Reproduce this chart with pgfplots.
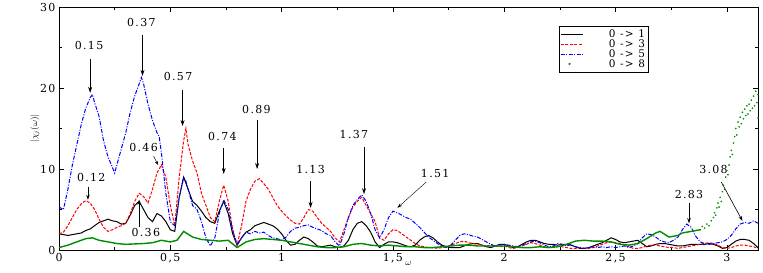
\documentclass[border=0pt]{standalone}
\usepackage{fontspec}
\setmainfont{DejaVu Serif}[LetterSpace=12]
\usepackage{pgfplots}
\pgfplotsset{compat=1.18}
\usetikzlibrary{arrows.meta}
\definecolor{xgreen}{RGB}{0,140,0}

\pgfplotstableread{
x y
0.00 2.0
0.02 1.9
0.04 1.8
0.06 1.9
0.08 2.0
0.10 2.1
0.12 2.4
0.14 2.6
0.16 3.0
0.18 3.4
0.20 3.6
0.22 3.8
0.24 3.6
0.26 3.5
0.28 3.2
0.30 3.3
0.32 4.3
0.34 5.5
0.36 6.0
0.38 5.0
0.40 4.0
0.42 3.5
0.44 4.5
0.46 4.2
0.48 3.5
0.50 2.5
0.52 2.3
0.54 6.5
0.56 9.0
0.58 7.5
0.60 6.0
0.62 5.5
0.64 4.8
0.66 4.0
0.68 3.5
0.70 3.3
0.72 4.8
0.74 6.0
0.76 4.5
0.78 2.0
0.80 0.6
0.82 1.5
0.84 2.2
0.86 2.5
0.88 3.0
0.90 3.2
0.92 3.4
0.94 3.2
0.96 3.0
0.98 2.6
1.00 2.0
1.02 1.2
1.04 0.6
1.06 0.7
1.08 1.2
1.10 1.6
1.12 1.4
1.14 1.0
1.16 0.5
1.18 0.4
1.20 0.5
1.22 0.6
1.24 0.4
1.26 0.3
1.28 0.5
1.30 1.2
1.32 2.5
1.34 3.3
1.36 3.5
1.38 3.0
1.40 2.2
1.42 1.0
1.44 0.3
1.46 0.7
1.48 1.0
1.50 1.0
1.52 0.9
1.54 0.7
1.56 0.5
1.58 0.4
1.60 0.6
1.62 1.2
1.64 1.6
1.66 1.8
1.68 1.5
1.70 1.0
1.72 0.6
1.74 0.4
1.76 0.3
1.78 0.3
1.80 0.3
1.82 0.5
1.84 0.7
1.86 0.8
1.88 0.8
1.90 0.6
1.92 0.4
1.94 0.3
1.96 0.5
1.98 0.7
2.00 0.7
2.02 0.5
2.04 0.3
2.06 0.4
2.08 0.7
2.10 1.0
2.12 1.2
2.14 1.2
2.16 1.0
2.18 0.8
2.20 0.7
2.22 0.7
2.24 0.6
2.26 0.7
2.28 0.7
2.30 0.6
2.32 0.4
2.34 0.2
2.36 0.2
2.38 0.3
2.40 0.5
2.42 0.7
2.44 0.9
2.46 1.2
2.48 1.5
2.50 1.3
2.52 1.0
2.54 0.9
2.56 1.0
2.58 1.1
2.60 1.2
2.62 0.8
2.64 0.4
2.66 0.5
2.68 0.7
2.70 0.8
2.72 0.8
2.74 0.7
2.76 0.6
2.78 0.5
2.80 0.5
2.82 0.6
2.84 0.7
2.86 0.7
2.88 0.7
2.90 0.7
2.92 0.8
2.94 0.7
2.96 0.5
2.98 0.2
3.00 0.3
3.02 0.7
3.04 1.1
3.06 1.3
3.08 1.3
3.10 1.2
3.12 0.8
3.14 0.3
}\blackdata

\pgfplotstableread{
x y
0.00 2.0
0.02 2.2
0.04 3.0
0.06 4.0
0.08 5.0
0.10 5.7
0.12 6.1
0.14 5.8
0.16 5.0
0.18 3.8
0.20 2.8
0.22 2.3
0.24 2.5
0.26 2.8
0.28 3.0
0.30 3.3
0.32 4.5
0.34 6.0
0.36 7.0
0.38 6.6
0.40 5.8
0.42 7.5
0.44 9.5
0.46 10.5
0.48 9.0
0.50 5.5
0.52 3.0
0.54 9.0
0.56 13.5
0.57 15.0
0.58 13.0
0.60 11.0
0.62 9.5
0.64 7.0
0.66 5.5
0.68 4.0
0.70 3.5
0.72 6.0
0.74 8.0
0.76 6.0
0.78 2.5
0.80 0.6
0.82 3.0
0.84 6.0
0.86 7.5
0.88 8.5
0.90 8.8
0.92 8.2
0.94 7.5
0.96 6.5
0.98 5.5
1.00 4.8
1.02 4.2
1.04 3.7
1.06 3.3
1.08 3.2
1.10 4.0
1.12 5.0
1.14 4.8
1.16 4.0
1.18 3.3
1.20 2.8
1.22 2.3
1.24 1.5
1.26 1.0
1.28 2.5
1.30 4.0
1.32 5.3
1.34 6.0
1.36 6.5
1.38 5.5
1.40 4.5
1.42 3.5
1.44 1.5
1.46 1.2
1.48 2.0
1.50 2.5
1.52 2.4
1.54 2.0
1.56 1.6
1.58 1.2
1.60 0.8
1.62 0.5
1.64 0.4
1.66 0.3
1.68 0.3
1.70 0.2
1.72 0.3
1.74 0.4
1.76 0.6
1.78 0.8
1.80 1.0
1.82 1.1
1.84 0.9
1.86 0.8
1.88 0.7
1.90 0.6
1.92 0.5
1.94 0.6
1.96 0.5
1.98 0.4
2.00 0.5
2.02 0.3
2.04 0.2
2.06 0.3
2.08 0.5
2.10 0.7
2.12 0.9
2.14 0.8
2.16 0.6
2.18 0.4
2.20 0.3
2.22 0.4
2.24 0.5
2.26 0.4
2.28 0.3
2.30 0.2
2.32 0.2
2.34 0.3
2.36 0.2
2.38 0.2
2.40 0.3
2.42 0.5
2.44 0.7
2.46 0.9
2.48 1.0
2.50 0.9
2.52 0.8
2.54 0.6
2.56 0.4
2.58 0.2
2.60 0.2
2.62 0.3
2.64 0.5
2.66 0.6
2.68 0.6
2.70 0.5
2.72 0.4
2.74 0.3
2.76 0.3
2.78 0.2
2.80 0.3
2.82 0.4
2.84 0.5
2.86 0.6
2.88 0.7
2.90 0.8
2.92 0.9
2.94 0.8
2.96 0.6
2.98 0.3
3.00 0.2
3.02 0.3
3.04 0.5
3.06 0.6
3.08 0.6
3.10 0.5
3.12 0.4
3.14 0.2
}\reddata

\pgfplotstableread{
x y
0.00 5.3
0.02 5.0
0.04 7.5
0.06 10.5
0.08 13.0
0.10 15.5
0.12 17.5
0.14 18.8
0.15 19.2
0.16 18.2
0.18 16.5
0.20 13.5
0.22 11.5
0.24 10.2
0.25 9.5
0.26 10.5
0.28 12.5
0.30 14.5
0.32 17.0
0.34 19.0
0.36 20.5
0.37 21.3
0.38 20.5
0.40 18.0
0.42 16.0
0.44 14.5
0.45 14.0
0.46 12.0
0.48 7.0
0.50 3.5
0.52 3.0
0.54 6.5
0.56 9.0
0.57 8.5
0.58 7.5
0.60 5.5
0.62 5.0
0.64 3.5
0.66 1.5
0.68 0.5
0.70 1.5
0.72 4.5
0.74 6.2
0.76 5.0
0.78 2.5
0.80 0.6
0.82 1.5
0.84 2.2
0.86 2.0
0.88 2.3
0.90 2.1
0.92 2.2
0.94 1.8
0.96 1.5
0.98 1.4
1.00 1.2
1.02 1.6
1.04 2.3
1.06 2.7
1.08 2.8
1.10 3.0
1.12 3.1
1.14 2.8
1.16 2.6
1.18 2.4
1.20 2.0
1.22 1.8
1.24 1.0
1.26 0.5
1.28 2.0
1.30 4.0
1.32 5.5
1.34 6.2
1.36 6.8
1.38 6.0
1.40 4.5
1.42 2.5
1.44 1.5
1.46 2.5
1.48 4.0
1.50 4.8
1.52 4.6
1.54 4.3
1.56 4.0
1.58 3.8
1.60 3.3
1.62 2.8
1.64 2.2
1.66 1.6
1.68 1.2
1.70 0.8
1.72 0.5
1.74 0.3
1.76 0.6
1.78 1.2
1.80 1.8
1.82 2.0
1.84 1.9
1.86 1.7
1.88 1.6
1.90 1.3
1.92 1.0
1.94 0.7
1.96 0.5
1.98 0.6
2.00 0.7
2.02 0.6
2.04 0.5
2.06 0.4
2.08 0.6
2.10 0.8
2.12 1.0
2.14 1.1
2.16 0.9
2.18 0.6
2.20 0.4
2.22 0.5
2.24 0.8
2.26 0.7
2.28 0.5
2.30 0.7
2.32 0.4
2.34 0.3
2.36 0.2
2.38 0.3
2.40 0.4
2.42 0.3
2.44 0.4
2.46 0.3
2.48 0.4
2.50 0.3
2.52 0.4
2.54 0.5
2.56 0.3
2.58 0.5
2.60 0.8
2.62 1.5
2.64 2.0
2.66 1.9
2.68 1.6
2.70 1.2
2.72 1.0
2.74 0.9
2.76 1.2
2.78 1.6
2.80 2.5
2.82 3.2
2.84 2.8
2.86 1.7
2.88 1.0
2.90 0.8
2.92 0.7
2.94 0.8
2.96 0.9
2.98 1.0
3.00 1.3
3.02 1.8
3.04 2.6
3.06 3.2
3.08 3.4
3.10 3.3
3.12 3.6
3.14 3.3
}\bluedata

\pgfplotstableread{
x y
0.00 0.3
0.04 0.6
0.08 1.0
0.12 1.4
0.15 1.5
0.18 1.2
0.22 1.0
0.26 0.8
0.30 0.7
0.34 0.75
0.38 0.8
0.42 0.9
0.46 1.2
0.50 1.0
0.53 1.2
0.56 2.3
0.60 1.6
0.64 1.3
0.68 1.2
0.72 1.1
0.76 1.2
0.80 0.3
0.84 1.0
0.88 1.3
0.92 1.4
0.96 1.3
1.00 1.2
1.04 1.0
1.08 0.8
1.12 0.6
1.16 0.4
1.20 0.3
1.24 0.3
1.28 0.4
1.32 0.7
1.36 0.8
1.40 0.6
1.44 0.5
1.48 0.6
1.52 0.5
1.56 0.4
1.60 0.4
1.64 0.3
1.68 0.3
1.72 0.4
1.76 0.5
1.80 0.6
1.84 0.6
1.88 0.5
1.92 0.5
1.96 0.5
2.00 0.5
2.04 0.4
2.08 0.3
2.12 0.3
2.16 0.4
2.20 0.3
2.24 0.4
2.28 0.7
2.32 1.1
2.36 1.2
2.40 1.1
2.44 1.1
2.48 1.0
2.52 0.7
2.56 0.6
2.60 0.8
2.64 1.4
2.68 2.1
2.70 2.3
2.74 1.6
2.78 1.8
2.80 2.1
2.84 2.3
2.88 2.5
}\greenline

\pgfplotstableread{
x y
2.88 2.5
2.89 2.9
2.90 2.7
2.91 3.2
2.92 3.0
2.93 3.6
2.94 4.0
2.945 4.6
2.95 4.3
2.955 5.2
2.96 5.8
2.965 5.3
2.97 6.5
2.975 6.0
2.98 7.2
2.985 8.0
2.99 7.5
2.995 9.0
3.00 9.8
3.005 9.3
3.01 10.5
3.015 11.5
3.02 12.3
3.025 11.8
3.03 13.2
3.035 14.0
3.04 15.0
3.045 14.2
3.05 15.8
3.055 15.2
3.06 16.4
3.065 15.6
3.07 17.0
3.075 16.2
3.08 17.4
3.085 16.6
3.09 17.8
3.095 16.8
3.10 18.0
3.105 17.2
3.11 18.5
3.115 17.5
3.12 19.0
3.125 17.8
3.13 19.6
3.135 18.2
3.14 19.2
3.14 16.3
}\greendots

\begin{document}
\begin{tikzpicture}
\begin{axis}[
  scale only axis,
  width=699pt, height=243pt,
  xmin=0, xmax=3.14, ymin=0, ymax=30,
  xtick={0,0.5,1,1.5,2,2.5,3},
  xticklabels={0,{0,5},1,{1,5},2,{2,5},3},
  ytick={0,10,20,30},
  minor xtick={0.25,0.75,1.25,1.75,2.25,2.75},
  minor ytick={5,15,25},
  tick align=inside,
  major tick length=5pt, minor tick length=3pt,
  tick style={black, line width=0.6pt},
  axis line style={line width=0.6pt},
  /pgf/number format/assume math mode=true,
  tick label style={font=\fontsize{11}{12}\selectfont},
  xlabel={$\omega$},
  ylabel={$|\chi_{j}(\omega)|$},
  label style={font=\fontsize{9}{10}\selectfont},
  xlabel style={yshift=8pt},
  ylabel style={yshift=-6pt},
  legend style={at={(0.715,0.92)}, anchor=north west, draw=black,
    font=\fontsize{10.5}{11}\selectfont, row sep=-3.5pt, inner sep=1.5pt,
    outer sep=0pt, cells={anchor=west}},
  legend image code/.code={\draw[line width=0.6pt,#1] (6pt,0pt) -- (28pt,0pt);},
]
\addplot[black, line width=1.0pt] table {\blackdata};
\addlegendentry{\hspace{24pt}0 -> 1}
\addplot[red, line width=1.0pt, dash pattern=on 3pt off 1.5pt] table {\reddata};
\addlegendentry{\hspace{24pt}0 -> 3}
\addplot[blue, line width=1.0pt, dash pattern=on 4pt off 1.5pt on 1pt off 1.5pt] table {\bluedata};
\addlegendentry{\hspace{24pt}0 -> 5}
\addplot[xgreen, line width=1.4pt, forget plot] table {\greenline};
\addplot[xgreen, only marks, mark=*, mark size=0.6pt,
  legend image code/.code={\fill[xgreen] (15pt,0pt) circle (0.9pt);}] table {\greendots};
\addlegendentry{\hspace{24pt}0 -> 8}

\begin{scope}[font=\fontsize{11}{12}\selectfont, every node/.style={inner sep=1pt}]
\node at (axis cs:0.135,25.3) {0.15};
\draw[-{Stealth[length=6pt,width=4pt]}, line width=0.6pt] (axis cs:0.14,23.6) -- (axis cs:0.14,19.4);
\node at (axis cs:0.37,28.1) {0.37};
\draw[-{Stealth[length=6pt,width=4pt]}, line width=0.6pt] (axis cs:0.375,26.6) -- (axis cs:0.375,21.5);
\node at (axis cs:0.535,21.4) {0.57};
\draw[-{Stealth[length=6pt,width=4pt]}, line width=0.6pt] (axis cs:0.555,19.8) -- (axis cs:0.555,15.3);
\node at (axis cs:0.734,14.0) {0.74};
\draw[-{Stealth[length=6pt,width=4pt]}, line width=0.6pt] (axis cs:0.74,12.6) -- (axis cs:0.74,9.4);
\node at (axis cs:0.887,17.4) {0.89};
\draw[-{Stealth[length=6pt,width=4pt]}, line width=0.6pt] (axis cs:0.89,16.0) -- (axis cs:0.89,10.0);
\node at (axis cs:1.13,9.9) {1.13};
\draw[-{Stealth[length=6pt,width=4pt]}, line width=0.6pt] (axis cs:1.13,8.5) -- (axis cs:1.13,5.2);
\node at (axis cs:1.325,14.2) {1.37};
\draw[-{Stealth[length=6pt,width=4pt]}, line width=0.6pt] (axis cs:1.37,12.7) -- (axis cs:1.37,6.9);
\node at (axis cs:1.69,9.5) {1.51};
\draw[-{Stealth[length=5pt,width=3pt]}, line width=0.4pt] (axis cs:1.65,8.4) -- (axis cs:1.52,5.2);
\node at (axis cs:0.145,8.9) {0.12};
\draw[-{Stealth[length=5pt,width=3.5pt]}, line width=0.6pt] (axis cs:0.13,7.8) -- (axis cs:0.13,6.2);
\node at (axis cs:0.38,12.6) {0.46};
\draw[-{Stealth[length=4pt,width=3pt]}, line width=0.4pt] (axis cs:0.425,11.6) -- (axis cs:0.445,10.5);
\node at (axis cs:0.39,2.1) {0.36};
\draw[-{Stealth[length=5pt,width=3.5pt]}, line width=0.6pt] (axis cs:0.36,2.9) -- (axis cs:0.36,6.2);
\node at (axis cs:2.83,6.8) {2.83};
\draw[-{Stealth[length=5pt,width=3.5pt]}, line width=0.6pt] (axis cs:2.83,5.8) -- (axis cs:2.83,3.3);
\node at (axis cs:2.94,9.9) {3.08};
\draw[-{Stealth[length=5pt,width=3.5pt]}, line width=0.6pt] (axis cs:2.975,8.4) -- (axis cs:3.07,3.6);
\end{scope}
\end{axis}
\pgfresetboundingbox
\useasboundingbox (-59pt,-23pt) rectangle (704pt,250pt);
\end{tikzpicture}
\end{document}
